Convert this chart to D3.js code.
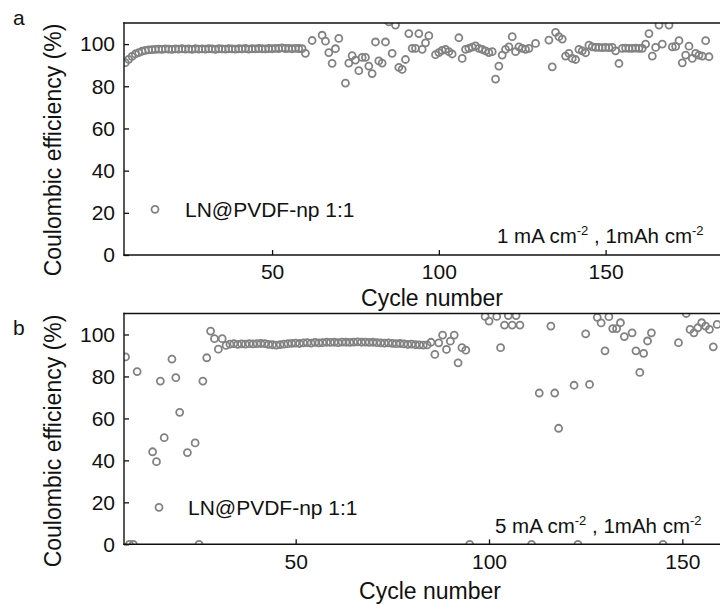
<!DOCTYPE html>
<html>
<head>
<meta charset="utf-8">
<script src="https://cdn.jsdelivr.net/npm/d3@7/dist/d3.min.js"></script>
<style>
  html, body { margin: 0; padding: 0; background: #fff; }
  svg { display: block; }
  text { font-family: Arial, "Liberation Sans", sans-serif; fill: #111; }
</style>
</head>
<body>
<svg id="chart" width="720" height="604"></svg>
<script>
// Panel a: 1 mA cm-2, 1 mAh cm-2
const cycleA = [6,7,8,9,10,11,12,13,14,15,16,17,18,19,20,21,22,23,24,25,26,27,28,29,30,
  31,32,33,34,35,36,37,38,39,40,41,42,43,44,45,46,47,48,49,50,51,52,53,54,55,56,57,58,59,60,
  62,65,66,67,68,69,70,72,73,74,75,76,77,78,79,80,81,82,83,84,85,86,87,88,89,90,
  91,92,93,94,95,96,97,99,100,101,102,103,104,106,107,108,109,110,111,112,113,114,115,116,
  117,118,119,120,121,122,123,124,125,126,127,129,133,134,135,136,137,138,139,140,141,142,
  143,144,145,146,147,148,149,150,151,152,153,154,155,156,157,158,159,160,161,162,163,164,
  165,166,167,169,170,171,172,173,174,175,176,177,178,179,180,181];
const ceA = [91.2,92.8,94.2,95.3,96.0,96.6,97.0,97.3,97.4,97.5,97.6,97.5,97.7,97.6,97.5,97.7,97.6,97.8,97.6,97.7,97.5,97.8,97.6,97.7,97.6,
  97.8,97.7,97.5,97.8,97.7,97.6,97.8,97.7,97.6,97.8,97.7,97.9,97.6,97.8,97.7,97.9,97.8,97.7,97.9,97.8,98.0,97.9,98.2,97.9,98.0,97.8,98.0,97.9,97.8,95.6,
  101.7,104.2,101.4,96.0,90.9,97.8,102.7,81.5,91.0,94.5,92.4,87.4,93.7,93.7,89.6,86.0,101.0,92.0,91.0,101.0,110.5,95.6,109.0,89.0,88.0,92.7,
  105.0,98.0,98.0,105.0,97.5,100.6,104.0,95.0,96.0,97.0,97.5,96.4,95.3,103.0,93.2,97.5,98.0,98.6,99.2,98.0,97.5,96.8,96.0,96.4,
  83.4,89.6,94.8,97.5,98.7,103.5,96.4,98.7,98.0,97.5,98.0,100.3,101.9,89.2,105.6,103.5,102.4,94.3,95.6,93.2,92.7,97.5,
  96.8,95.9,99.5,98.7,98.4,98.4,98.3,98.4,98.3,98.4,96.8,90.8,98.0,98.1,98.0,98.0,98.1,98.0,98.0,100.0,105.0,94.3,
  98.4,109.0,100.0,109.0,98.7,98.9,101.6,91.1,94.8,99.0,93.2,95.6,94.8,94.3,101.6,94.0];

// Panel b: 5 mA cm-2, 1 mAh cm-2
const cycleB = [6,7,8,9,13,14,15,16,18,19,20,22,24,25,26,27,28,29,30,
  31,32,33,34,35,36,37,38,39,40,41,42,43,44,45,46,47,48,49,50,51,52,53,54,55,56,57,58,59,60,
  61,62,63,64,65,66,67,68,69,70,71,72,73,74,75,76,77,78,79,80,81,82,83,84,
  85,86,87,88,89,90,91,92,93,94,95,99,100,102,103,104,105,106,107,108,111,113,116,117,118,
  122,123,125,126,128,129,130,131,132,133,134,135,137,138,139,140,141,142,145,149,151,
  152,153,154,155,156,157,158,159];
const ceB = [89.3,0,0,82.3,44.1,39.4,77.8,50.8,88.3,79.4,62.9,43.7,48.3,0,77.8,88.9,101.6,98.0,93.0,
  98.0,94.8,95.4,95.6,95.3,95.5,95.4,95.6,95.5,95.6,95.7,95.6,95.3,95.1,94.9,95.2,95.4,95.6,95.8,95.9,95.7,96.0,96.1,95.9,96.2,96.0,96.1,96.3,96.2,96.3,
  96.1,96.4,96.3,96.2,96.4,96.5,96.3,96.4,96.2,96.3,96.1,96.0,95.9,96.0,95.8,95.6,95.7,95.5,95.3,95.4,95.1,95.0,94.9,95.0,
  96.3,90.5,96.0,99.7,92.9,96.8,99.7,86.5,93.7,92.5,0,108.6,106.4,108.6,93.7,104.5,109.0,104.5,109.0,104.5,0,72.1,104.0,72.1,55.3,
  75.8,0,100.3,76.2,108.2,105.5,92.2,108.5,102.8,102.8,105.6,99.0,100.8,92.2,81.9,91.0,96.9,100.8,0,96.1,110.0,
  102.4,100.8,103.2,105.6,104.0,102.4,94.1,104.8];

const yTicks = [0, 20, 40, 60, 80, 100];
const xTicks = [50, 100, 150];
const legendLabel = "LN@PVDF-np 1:1";
const yTitle = "Coulombic efficiency (%)";
const xTitle = "Cycle number";

const panels = [
  {
    id: "a", cycles: cycleA, values: ceA,
    xDomain: [5.6, 184.6], left: 124, right: 721, top: 23, bottom: 255,
    letterY: 25, legendY: 209.3, legendX: 155, legendTextX: 185,
    current: "1", noteX: 497, noteY: 243, yTitleY: 150, xTitleY: 306, xTitleX: 432
  },
  {
    id: "b", cycles: cycleB, values: ceB,
    xDomain: [5.6, 160], left: 124, right: 721, top: 313.5, bottom: 544.3,
    letterY: 335, legendY: 507.3, legendX: 159, legendTextX: 188,
    current: "5", noteX: 495, noteY: 533, yTitleY: 441, xTitleY: 599, xTitleX: 430
  }
];

const svg = d3.select("#chart");
const markColor = "#828282";
const markR = 3.5;
const markW = 1.8;

panels.forEach(p => {
  const x = d3.scaleLinear().domain(p.xDomain).range([p.left, p.right]);
  const y = d3.scaleLinear().domain([0, 110]).range([p.bottom, p.top]);
  const g = svg.append("g");

  const clipId = "clip-" + p.id;
  svg.append("defs").append("clipPath").attr("id", clipId)
    .append("rect")
    .attr("x", p.left).attr("y", p.top)
    .attr("width", p.right - p.left).attr("height", p.bottom - p.top);

  // data markers (open circles)
  const pts = p.cycles.map((c, i) => ({ c, v: p.values[i] }));
  g.append("g").attr("clip-path", `url(#${clipId})`)
    .selectAll("circle").data(pts).join("circle")
    .attr("cx", d => x(d.c)).attr("cy", d => y(d.v))
    .attr("r", markR)
    .attr("fill", "none")
    .attr("stroke", markColor)
    .attr("stroke-width", markW);

  // axes with inward ticks
  const xAxis = d3.axisBottom(x).tickValues(xTicks).tickSizeInner(-5).tickSizeOuter(0).tickPadding(9.5);
  const gx = g.append("g").attr("transform", `translate(0,${p.bottom})`).call(xAxis);
  const yAxis = d3.axisLeft(y).tickValues(yTicks).tickSizeInner(-5).tickSizeOuter(0).tickPadding(9);
  const gy = g.append("g").attr("transform", `translate(${p.left},0)`).call(yAxis);
  [gx, gy].forEach(ax => {
    ax.select(".domain").remove();
    ax.selectAll(".tick line").attr("stroke", "#111").attr("stroke-width", 1.3);
    ax.selectAll(".tick text")
      .style("font-family", 'Arial, "Liberation Sans", sans-serif')
      .style("font-size", "21px").attr("fill", "#111");
  });

  // frame: left, bottom and top spines
  const spine = [
    [p.left, p.top, p.left, p.bottom],
    [p.left, p.bottom, p.right, p.bottom],
    [p.left, p.top, p.right, p.top]
  ];
  g.selectAll("line.spine").data(spine).join("line")
    .attr("class", "spine")
    .attr("x1", d => d[0]).attr("y1", d => d[1])
    .attr("x2", d => d[2]).attr("y2", d => d[3])
    .attr("stroke", "#111").attr("stroke-width", 1.4)
    .attr("stroke-linecap", "square");

  // panel letter
  g.append("text").attr("x", 13).attr("y", p.letterY)
    .style("font-size", "21px").text(p.id);

  // axis titles
  g.append("text")
    .attr("transform", `translate(61,${p.yTitleY}) rotate(-90)`)
    .attr("text-anchor", "middle")
    .style("font-size", "23px").text(yTitle);
  g.append("text")
    .attr("x", p.xTitleX).attr("y", p.xTitleY)
    .attr("text-anchor", "middle")
    .style("font-size", "23px").text(xTitle);

  // legend
  g.append("circle")
    .attr("cx", p.legendX).attr("cy", p.legendY).attr("r", markR)
    .attr("fill", "none").attr("stroke", markColor).attr("stroke-width", markW);
  g.append("text")
    .attr("x", p.legendTextX).attr("y", p.legendY + 8)
    .style("font-size", "21px").text(legendLabel);

  // test condition note
  const note = g.append("text")
    .attr("x", p.noteX).attr("y", p.noteY)
    .style("font-size", "20.5px");
  note.append("tspan").text(p.current + " mA cm");
  note.append("tspan").attr("dy", -8).style("font-size", "13px").text("-2");
  note.append("tspan").attr("dy", 8).text(" , 1mAh cm");
  note.append("tspan").attr("dy", -8).style("font-size", "13px").text("-2");
});
</script>
</body>
</html>
